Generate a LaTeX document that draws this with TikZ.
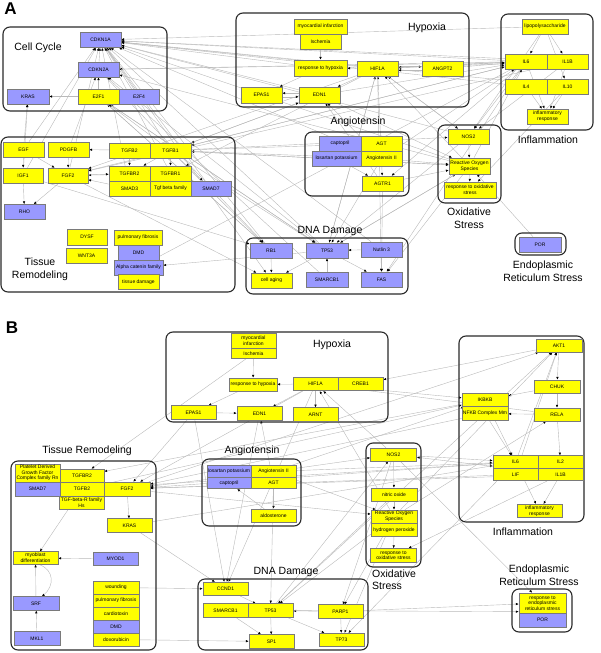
\documentclass[tikz,border=0pt]{standalone}
\usepackage{fontspec}
\setmainfont{Liberation Sans}
\usepackage{tikz}
\usetikzlibrary{arrows.meta,backgrounds}
\definecolor{nyel}{HTML}{FFFF00}
\definecolor{nblue}{HTML}{9999FF}
\definecolor{nbord}{HTML}{7A7A7A}
\definecolor{elink}{HTML}{B9B9B9}
\definecolor{gframe}{HTML}{2A2A2A}
\newcommand{\ntxt}{\fontsize{5}{5.6}\selectfont}
\newcommand{\gtxt}{\fontsize{10.5}{12.5}\selectfont}
\tikzset{
  yn/.style={draw=nbord,fill=nyel,line width=0.6pt,minimum width=41pt,minimum height=15pt,inner sep=0.3pt,font=\ntxt,align=center},
  bn/.style={yn,fill=nblue},
  ynb/.style={yn,minimum width=45pt,minimum height=13.5pt},
  bnb/.style={bn,minimum width=45pt,minimum height=13.5pt},
  grp/.style={draw=gframe,line width=1.1pt,rounded corners=7pt},
  glab/.style={font=\gtxt,align=center,inner sep=0pt},
  plab/.style={font=\bfseries\fontsize{17}{17}\selectfont,inner sep=0pt},
  lnk/.style={draw=elink,line width=0.4pt,-{Latex[length=2.8pt,width=2.4pt,color=black]}},
}
\begin{document}
\begin{tikzpicture}[x=1pt,y=-1pt]
  \useasboundingbox (0,0) rectangle (600,653);
  % ---------------- A ----------------
  \node[plab] (labA) at (10.5,9) {A};
  \draw[grp] (3,27) rectangle (167,111);
  \draw[grp] (1,137) rectangle (235,292);
  \draw[grp] (236,13) rectangle (469,107);
  \draw[grp] (501,14) rectangle (593,130);
  \draw[grp] (438,125) rectangle (501,203);
  \draw[grp] (305,132) rectangle (409,196);
  \draw[grp] (246,238) rectangle (408,294);
  \draw[grp] (515,233) rectangle (566,255);
  \node[glab] (tCCa) at (38,48) {Cell Cycle};
  \node[glab] (tTRa) at (40,269.5) {Tissue\\Remodeling};
  \node[glab] (tHYa) at (427,28) {Hypoxia};
  \node[glab] (tANa) at (358,122) {Angiotensin};
  \node[glab] (tINa) at (548,140) {Inflammation};
  \node[glab] (tOXa) at (469,218) {Oxidative\\Stress};
  \node[glab] (tDDa) at (330,231) {DNA Damage};
  \node[glab] (tERa) at (543,271) {Endoplasmic\\Reticulum Stress};
  % cell cycle
  \node[bn] (aCDKN1A) at (100.5,40) {CDKN1A};
  \node[bn] (aCDKN2A) at (98.5,69.5) {CDKN2A};
  \node[bn,minimum width=42pt] (aKRAS) at (28,96.5) {KRAS};
  \node[yn] (aE2F1) at (98.5,96.5) {E2F1};
  \node[bn,minimum width=40pt] (aE2F4) at (139,96.5) {E2F4};
  % tissue remodeling
  \node[yn] (aEGF) at (23.5,149.5) {EGF};
  \node[yn] (aPDGFB) at (68.5,149.5) {PDGFB};
  \node[yn,minimum width=40pt] (aIGF1) at (23,175.5) {IGF1};
  \node[yn,minimum width=40pt] (aFGF2) at (68,175.5) {FGF2};
  \node[yn] (aTGFB2) at (129.5,150.5) {TGFB2};
  \node[yn] (aTGFB1) at (170.5,150.5) {TGFB1};
  \node[yn] (aTGFBR2) at (129.5,173.5) {TGFBR2};
  \node[yn] (aTGFBR1) at (170.5,173.5) {TGFBR1};
  \node[yn] (aSMAD3) at (129.5,188.5) {SMAD3};
  \node[yn] (aTGFFAM) at (170.5,188.5) {Tgf beta family};
  \node[bn,minimum width=40pt] (aSMAD7) at (211,188.5) {SMAD7};
  \node[bn] (aRHO) at (24.5,212) {RHO};
  \node[yn,minimum width=40pt,minimum height=16pt] (aDYSF) at (87,237) {DYSF};
  \node[yn] (aWNT3A) at (86.5,255.5) {WNT3A};
  \node[yn,minimum width=48pt] (aPULM) at (138,237.5) {pulmonary fibrosis};
  \node[bn] (aDMD) at (138.5,252.5) {DMD};
  \node[bn,minimum width=49pt] (aACAT) at (138.5,267.5) {Alpha catenin family};
  \node[yn] (aTDAM) at (138.5,282) {tissue damage};
  % hypoxia
  \node[yn,minimum width=53pt] (aMI) at (320.5,26.5) {myocardial infarction};
  \node[yn] (aISCH) at (320.5,41.5) {Ischemia};
  \node[yn,minimum width=53pt,minimum height=16pt] (aRHYP) at (320.5,68) {response to hypoxia};
  \node[yn] (aHIF1A) at (377.5,68.5) {HIF1A};
  \node[yn] (aANGPT2) at (442.5,68.5) {ANGPT2};
  \node[yn,minimum height=16pt] (aEPAS1) at (261.5,95) {EPAS1};
  \node[yn,minimum height=16pt] (aEDN1) at (319.5,95) {EDN1};
  % inflammation
  \node[yn,minimum width=46pt] (aLPS) at (545,26.5) {lipopolysaccharide};
  \node[yn,minimum width=42pt] (aIL6) at (526,61.5) {IL6};
  \node[yn] (aIL1B) at (567.5,61.5) {IL1B};
  \node[yn,minimum width=42pt] (aIL4) at (526,86.5) {IL4};
  \node[yn] (aIL10) at (567.5,86.5) {IL10};
  \node[yn] (aINFL) at (547.5,116.5) {inflammatory\\response};
  % oxidative stress
  \node[yn] (aNOS2) at (468.5,136.5) {NOS2};
  \node[yn,minimum height=16pt] (aROS) at (469.5,166) {Reactive Oxygen\\Species};
  \node[yn,minimum width=52pt,minimum height=16pt] (aROX) at (470,190) {response to oxidative\\stress};
  % angiotensin
  \node[bn,minimum width=42pt] (aCAPT) at (340,143.5) {captopril};
  \node[yn] (aAGT) at (381.5,143.5) {AGT};
  \node[bn,minimum width=49pt] (aLOS) at (336.5,158.5) {losartan potassium};
  \node[yn] (aANG2) at (381.5,158.5) {Angiotensin II};
  \node[yn] (aAGTR1) at (382.5,183.5) {AGTR1};
  % dna damage
  \node[bn,minimum width=42pt] (aRB1) at (271,250.5) {RB1};
  \node[bn,minimum width=42pt] (aTP53) at (327,250.5) {TP53};
  \node[bn] (aNUT) at (381.5,249.5) {Nutlin 3};
  \node[yn] (aCAGE) at (271.5,280.5) {cell aging};
  \node[bn,minimum width=42pt] (aSMARCB1) at (327,279.5) {SMARCB1};
  \node[bn] (aFAS) at (381.5,279.5) {FAS};
  % er stress
  \node[bn,minimum width=42pt] (aPOR) at (540,244.5) {POR};
  % ---------------- B ----------------
  \node[plab] (labB) at (12,328) {B};
  \draw[grp] (166,332) rectangle (388,422);
  \draw[grp] (459,336) rectangle (584,522);
  \draw[grp] (11,461) rectangle (156,650);
  \draw[grp] (202,459) rectangle (301,526);
  \draw[grp] (366,443) rectangle (421,567);
  \draw[grp] (198,579) rectangle (368,650);
  \draw[grp] (512,589) rectangle (572,632);
  \node[glab] (tHYb) at (332,345) {Hypoxia};
  \node[glab] (tINb) at (523,532) {Inflammation};
  \node[glab] (tTRb) at (87,451) {Tissue Remodeling};
  \node[glab] (tANb) at (252,451) {Angiotensin};
  \node[glab,align=left,anchor=west] (tOXb) at (372,579.5) {Oxidative\\Stress};
  \node[glab] (tDDb) at (286,572) {DNA Damage};
  \node[glab] (tERb) at (539,575) {Endoplasmic\\Reticulum Stress};
  % hypoxia
  \node[ynb,minimum height=15pt] (bMI) at (253.5,340.5) {myocardial\\infarction};
  \node[ynb,minimum height=10.5pt] (bISCH) at (253.5,353.5) {Ischemia};
  \node[ynb,minimum width=48pt,minimum height=13pt] (bRHYP) at (253,384.5) {response to hypoxia};
  \node[ynb] (bHIF1A) at (315.5,384) {HIF1A};
  \node[ynb] (bCREB1) at (360.5,384) {CREB1};
  \node[ynb] (bEPAS1) at (193.5,412.5) {EPAS1};
  \node[ynb] (bEDN1) at (259.5,413.5) {EDN1};
  \node[ynb] (bARNT) at (315.5,414.5) {ARNT};
  % inflammation
  \node[ynb,minimum width=46pt,minimum height=13pt] (bAKT1) at (559,345.5) {AKT1};
  \node[ynb,minimum width=46pt,minimum height=13pt] (bCHUK) at (557,386.5) {CHUK};
  \node[ynb,minimum width=46pt] (bIKBKB) at (485,400) {IKBKB};
  \node[ynb,minimum width=46pt] (bNFKB) at (485,413.5) {NFKB Complex Mm};
  \node[ynb,minimum width=46pt,minimum height=13pt] (bRELA) at (557,414.5) {RELA};
  \node[ynb,minimum height=12.5pt] (bIL6) at (515.5,462) {IL6};
  \node[ynb,minimum height=12.5pt] (bIL2) at (560.5,462) {IL2};
  \node[ynb,minimum height=12.5pt] (bLIF) at (515.5,474.5) {LIF};
  \node[ynb,minimum height=12.5pt] (bIL1B) at (560.5,474.5) {IL1B};
  \node[ynb] (bINFL) at (539.5,511) {inflammatory\\response};
  % tissue remodeling
  \node[ynb,minimum height=18pt] (bPDGF) at (37.5,473) {Platelet Derived\\Growth Factor\\Complex family Rn};
  \node[bnb,minimum height=14pt] (bSMAD7) at (37.5,489) {SMAD7};
  \node[ynb,minimum width=44pt,minimum height=13pt] (bTGFBR2) at (82,475.5) {TGFBR2};
  \node[ynb,minimum width=44pt,minimum height=14pt] (bTGFB2) at (82,489) {TGFB2};
  \node[ynb,minimum height=13pt] (bTGFFAM) at (81.5,502.5) {TGF-beta-R family\\Hs};
  \node[ynb,minimum width=46pt,minimum height=14pt] (bFGF2) at (127,489) {FGF2};
  \node[ynb] (bKRAS) at (129.5,525.5) {KRAS};
  \node[ynb,minimum height=12.5pt] (bMYOB) at (35.5,558) {myoblast\\differentiation};
  \node[bnb] (bMYOD1) at (115.5,559) {MYOD1};
  \node[bnb,minimum width=46pt] (bSRF) at (36,603.5) {SRF};
  \node[bnb,minimum width=46pt] (bMKL1) at (37,638.5) {MKL1};
  \node[ynb,minimum width=46pt,minimum height=13pt] (bWOUND) at (116,587.5) {wounding};
  \node[ynb,minimum width=46pt,minimum height=13pt] (bPULM) at (116,600.5) {pulmonary fibrosis};
  \node[ynb,minimum width=46pt,minimum height=13pt] (bCARD) at (116,613.5) {cardiotoxin};
  \node[bnb,minimum width=46pt,minimum height=13pt] (bDMD) at (116,626.5) {DMD};
  \node[ynb,minimum width=46pt,minimum height=13pt] (bDOXO) at (116,639.5) {doxorubicin};
  % angiotensin
  \node[bnb,minimum width=44pt,minimum height=11.5pt] (bLOS) at (229,471.5) {losartan potassium};
  \node[bnb,minimum width=44pt,minimum height=11.5pt] (bCAPT) at (229,483) {captopril};
  \node[ynb,minimum height=11.5pt] (bANG2) at (273.5,471.5) {Angiotensin II};
  \node[ynb,minimum height=11.5pt] (bAGT) at (273.5,483) {AGT};
  \node[ynb,minimum height=13pt] (bALDO) at (273.5,515.5) {aldosterone};
  % oxidative stress
  \node[ynb,minimum width=46pt,minimum height=13pt] (bNOS2) at (393.5,454.5) {NOS2};
  \node[ynb,minimum width=46pt,minimum height=13pt] (bNO) at (394,494.5) {nitric oxide};
  \node[ynb,minimum width=46pt,minimum height=13pt] (bROS) at (394,516.5) {Reactive Oxygen\\Species};
  \node[ynb,minimum width=46pt,minimum height=13pt] (bH2O2) at (394,530) {hydrogen peroxide};
  \node[ynb,minimum width=46pt,minimum height=14pt] (bROX) at (393.5,555.5) {response to\\oxidative stress};
  % dna damage
  \node[ynb] (bCCND1) at (225.5,589) {CCND1};
  \node[ynb] (bSMARCB1) at (225.5,610.5) {SMARCB1};
  \node[ynb] (bTP53) at (270.5,610.5) {TP53};
  \node[ynb] (bPARP1) at (340.5,611.5) {PARP1};
  \node[ynb] (bSP1) at (271.5,641.5) {SP1};
  \node[ynb] (bTP73) at (341.5,640) {TP73};
  % er stress
  \node[ynb,minimum width=47pt,minimum height=20pt] (bRER) at (542.5,603) {response to\\endoplasmic\\reticulum stress};
  \node[bnb,minimum width=47pt,minimum height=14pt] (bPOR) at (542.5,620) {POR};
  % ---------------- links ----------------
  \begin{pgfonlayer}{background}
  % A: cell cycle
  \draw[lnk] (aCDKN2A)--(aCDKN1A); \draw[lnk] (aE2F1)--(aCDKN2A); \draw[lnk] (aE2F1)--(aKRAS); \draw[lnk] (aE2F4)--(aCDKN1A);
  \draw[lnk] (aEGF)--(aCDKN1A); \draw[lnk] (aIGF1)--(aCDKN1A); \draw[lnk] (aFGF2)--(aCDKN1A); \draw[lnk] (aPDGFB)--(aCDKN2A);
  \draw[lnk] (aTGFB1)--(aCDKN1A); \draw[lnk] (aTGFBR1)--(aCDKN1A); \draw[lnk] (aSMAD3)--(aCDKN1A); \draw[lnk] (aSMAD7)--(aCDKN1A);
  \draw[lnk] (aTP53)--(aCDKN1A); \draw[lnk] (aRB1)--(aCDKN1A); \draw[lnk] (aNUT)--(aCDKN1A); \draw[lnk] (aSMARCB1)--(aCDKN2A);
  \draw[lnk] (aTP53)--(aCDKN2A); \draw[lnk] (aRB1)--(aE2F1); \draw[lnk] (aTP53)--(aE2F1); \draw[lnk] (aHIF1A)--(aCDKN1A);
  \draw[lnk] (aEDN1)--(aCDKN1A); \draw[lnk] (aIL6)--(aCDKN1A); \draw[lnk] (aIL1B)--(aCDKN1A); \draw[lnk] (aIL4)--(aCDKN1A);
  \draw[lnk] (aIL10)--(aCDKN1A); \draw[lnk] (aLPS)--(aCDKN1A); \draw[lnk] (aNOS2)--(aCDKN1A); \draw[lnk] (aROS)--(aCDKN1A);
  \draw[lnk] (aANG2)--(aCDKN1A); \draw[lnk] (aRHYP)--(aCDKN1A); \draw[lnk] (aROS)--(aCDKN2A); \draw[lnk] (aIL6)--(aCDKN2A);
  \draw[lnk] (aIGF1)--(aKRAS); \draw[lnk] (aEGF)--(aKRAS); \draw[lnk] (aTGFB1)--(aE2F1); \draw[lnk] (aIL1B)--(aCDKN2A);
  % A: tissue remodeling
  \draw[lnk] (aEGF)--(aIGF1); \draw[lnk] (aPDGFB)--(aFGF2); \draw[lnk] (aEGF)--(aFGF2); \draw[lnk] (aIGF1)--(aRHO);
  \draw[lnk] (aFGF2)--(aRHO); \draw[lnk] (aTGFB1)--(aPDGFB); \draw[lnk] (aTGFB1)--(aFGF2); \draw[lnk] (aTGFBR1)--(aFGF2);
  \draw[lnk] (aSMAD3)--(aFGF2); \draw[lnk] (aIL1B)--(aFGF2); \draw[lnk] (aHIF1A)--(aFGF2); \draw[lnk] (aTGFB1)--(aTGFBR1);
  \draw[lnk] (aTGFB2)--(aTGFBR2); \draw[lnk] (aTGFB1)--(aTGFBR2); \draw[lnk] (aTGFB1)--(aSMAD7); \draw[lnk] (aFGF2)--(aTGFBR2);
  \draw[lnk] (aANG2)--(aTGFB1); \draw[lnk] (aEDN1)--(aTGFB1); \draw[lnk] (aIL6)--(aTGFB1); \draw[lnk] (aHIF1A)--(aTGFBR1);
  \draw[lnk] (aIL6)--(aACAT); \draw[lnk] (aTP53)--(aACAT); \draw[lnk] (aROS)--(aTGFB1);
  % A: hypoxia
  \draw[lnk] (aISCH)--(aRHYP); \draw[lnk] (aHIF1A)--(aRHYP); \draw[lnk] (aHIF1A.5)--(aANGPT2.175); \draw[lnk] (aANGPT2.185)--(aHIF1A.-5);
  \draw[lnk] (aEDN1.175)--(aEPAS1.5); \draw[lnk] (aEPAS1.-5)--(aEDN1.185); \draw[lnk] (aRHYP)--(aEPAS1); \draw[lnk] (aHIF1A)--(aEDN1);
  \draw[lnk] (aROS)--(aHIF1A); \draw[lnk] (aIL1B)--(aHIF1A); \draw[lnk] (aIL6)--(aHIF1A); \draw[lnk] (aTP53)--(aHIF1A);
  \draw[lnk] (aNOS2)--(aHIF1A); \draw[lnk] (aANG2)--(aHIF1A); \draw[lnk] (aANG2)--(aEDN1); \draw[lnk] (aAGTR1)--(aEDN1);
  \draw[lnk] (aTGFB1)--(aEDN1);
  % A: inflammation
  \draw[lnk] (aLPS)--(aIL6); \draw[lnk] (aLPS)--(aIL1B); \draw[lnk] (aLPS)--(aIL10); \draw[lnk] (aIL6)--(aINFL);
  \draw[lnk] (aIL1B)--(aINFL); \draw[lnk] (aIL4)--(aINFL); \draw[lnk] (aIL10)--(aINFL); \draw[lnk] (aANG2)--(aIL6);
  \draw[lnk] (aTGFB1)--(aIL6); \draw[lnk] (aHIF1A)--(aIL6); \draw[lnk] (aEDN1)--(aIL6); \draw[lnk] (aROS)--(aIL6);
  \draw[lnk] (aANGPT2)--(aIL6);
  % A: oxidative stress
  \draw[lnk] (aNOS2)--(aROS); \draw[lnk] (aROS)--(aROX); \draw[lnk] (aIL1B)--(aNOS2); \draw[lnk] (aIL6)--(aNOS2);
  \draw[lnk] (aLPS)--(aNOS2); \draw[lnk] (aANG2)--(aROS); \draw[lnk] (aAGTR1)--(aROS); \draw[lnk] (aHIF1A)--(aNOS2);
  \draw[lnk] (aTP53)--(aROS); \draw[lnk] (aEDN1)--(aROS); \draw[lnk] (aPOR)--(aROS); \draw[lnk] (aIL10)--(aROX);
  \draw[lnk] (aTGFB1)--(aNOS2); \draw[lnk] (aTGFB1)--(aROS);
  % A: angiotensin
  \draw[lnk] (aANG2)--(aAGTR1); \draw[lnk] (aLOS)--(aAGTR1); \draw[lnk] (aTGFB1)--(aAGT); \draw[lnk] (aIL6)--(aAGTR1);
  % A: dna damage
  \draw[lnk] (aNUT)--(aTP53); \draw[lnk] (aTP53)--(aFAS); \draw[lnk] (aSMARCB1)--(aTP53); \draw[lnk] (aRB1)--(aCAGE);
  \draw[lnk] (aTP53)--(aCAGE); \draw[lnk] (aNUT)--(aFAS); \draw[lnk] (aHIF1A)--(aFAS); \draw[lnk] (aROS)--(aFAS);
  \draw[lnk] (aIL6)--(aFAS); \draw[lnk] (aAGTR1)--(aFAS); \draw[lnk] (aTGFB1)--(aTP53); \draw[lnk] (aHIF1A)--(aTP53);
  \draw[lnk] (aROS)--(aTP53); \draw[lnk] (aNOS2)--(aTP53); \draw[lnk] (aE2F1)--(aTP53); \draw[lnk] (aANG2)--(aTP53);
  \draw[lnk] (aIGF1)--(aRB1); \draw[lnk] (aTGFB1)--(aRB1); \draw[lnk] (aCDKN2A)--(aRB1); \draw[lnk] (aE2F1)--(aRB1);
  \draw[lnk] (aFGF2)--(aCAGE); \draw[lnk] (aCDKN1A)--(aCAGE);
  % B: hypoxia
  \draw[lnk] (bISCH)--(bRHYP); \draw[lnk] (bHIF1A)--(bRHYP); \draw[lnk] (bHIF1A)--(bARNT); \draw[lnk] (bHIF1A)--(bEDN1);
  \draw[lnk] (bEPAS1)--(bEDN1); \draw[lnk] (bRHYP)--(bEPAS1); \draw[lnk] (bAKT1)--(bCREB1); \draw[lnk] (bNOS2)--(bHIF1A);
  \draw[lnk] (bROS)--(bHIF1A); \draw[lnk] (bRELA)--(bHIF1A); \draw[lnk] (bAGT)--(bEDN1); \draw[lnk] (bEPAS1)--(bFGF2);
  \draw[lnk] (bHIF1A)--(bFGF2); \draw[lnk] (bISCH)--(bTGFBR2);
  % B: inflammation
  \draw[lnk] (bAKT1)--(bCHUK); \draw[lnk] (bCHUK)--(bRELA); \draw[lnk] (bRELA)--(bNFKB); \draw[lnk] (bCHUK)--(bIKBKB);
  \draw[lnk] (bIKBKB)--(bIL6); \draw[lnk] (bNFKB)--(bIL6); \draw[lnk] (bRELA)--(bIL2); \draw[lnk] (bIL6)--(bINFL);
  \draw[lnk] (bIL1B)--(bINFL); \draw[lnk] (bIL6)--(bAKT1); \draw[lnk] (bLIF)--(bAKT1); \draw[lnk] (bROS)--(bAKT1);
  \draw[lnk] (bTP53)--(bAKT1); \draw[lnk] (bFGF2)--(bAKT1); \draw[lnk] (bANG2)--(bIKBKB); \draw[lnk] (bTGFB2)--(bIKBKB);
  \draw[lnk] (bHIF1A)--(bIKBKB); \draw[lnk] (bANG2)--(bIL6); \draw[lnk] (bNOS2)--(bIL6); \draw[lnk] (bKRAS)--(bIL6);
  \draw[lnk] (bTGFB2)--(bIL6); \draw[lnk] (bROS)--(bRELA);
  % B: angiotensin
  \draw[lnk] (bAGT)--(bALDO); \draw[lnk] (bALDO)--(bCAPT); \draw[lnk] (bANG2)--(bNOS2); \draw[lnk] (bANG2)--(bFGF2);
  \draw[lnk] (bANG2)--(bROS); \draw[lnk] (bAGT)--(bTP53);
  % B: oxidative stress
  \draw[lnk] (bNOS2)--(bNO); \draw[lnk] (bNO)--(bROS); \draw[lnk] (bH2O2)--(bROX); \draw[lnk] (bIL1B)--(bROX);
  \draw[lnk] (bIL1B)--(bNOS2); \draw[lnk] (bTP53)--(bNOS2); \draw[lnk] (bFGF2)--(bROS);
  % B: tissue remodeling
  \draw[lnk] (bMYOD1)--(bMYOB); \draw[lnk] (bSRF)--(bMYOB); \draw[lnk] (bMKL1)--(bSRF);
  \draw[lnk] (bMYOB.-60) to[out=-20,in=40,looseness=1.3] (bSRF.50);
  \draw[lnk] (bFGF2)--(bKRAS); \draw[lnk] (bIKBKB)--(bTGFBR2); \draw[lnk] (bIL6)--(bFGF2); \draw[lnk] (bIL1B)--(bFGF2);
  \draw[lnk] (bLIF)--(bFGF2); \draw[lnk] (bNFKB)--(bFGF2); \draw[lnk] (bTGFB2)--(bMYOB); \draw[lnk] (bDOXO)--(bSP1);
  \draw[lnk] (bWOUND)--(bCCND1); \draw[lnk] (bKRAS)--(bCCND1);
  % B: dna damage
  \draw[lnk] (bPARP1)--(bTP53); \draw[lnk] (bTP53)--(bSP1); \draw[lnk] (bTP53)--(bTP73); \draw[lnk] (bPARP1)--(bTP73);
  \draw[lnk] (bSMARCB1)--(bSP1); \draw[lnk] (bCCND1)--(bTP53); \draw[lnk] (bROS)--(bTP53); \draw[lnk] (bNO)--(bTP53);
  \draw[lnk] (bNOS2)--(bPARP1); \draw[lnk] (bROS)--(bPARP1); \draw[lnk] (bHIF1A)--(bCCND1); \draw[lnk] (bEDN1)--(bCCND1);
  \draw[lnk] (bEPAS1)--(bCCND1); \draw[lnk] (bIL6)--(bTP73); \draw[lnk] (bROS)--(bTP73);
  % B: er stress
  \draw[lnk] (bNOS2)--(bRER); \draw[lnk] (bPARP1)--(bRER); \draw[lnk] (bTP53)--(bRER.200);
  \end{pgfonlayer}
\end{tikzpicture}
\end{document}
